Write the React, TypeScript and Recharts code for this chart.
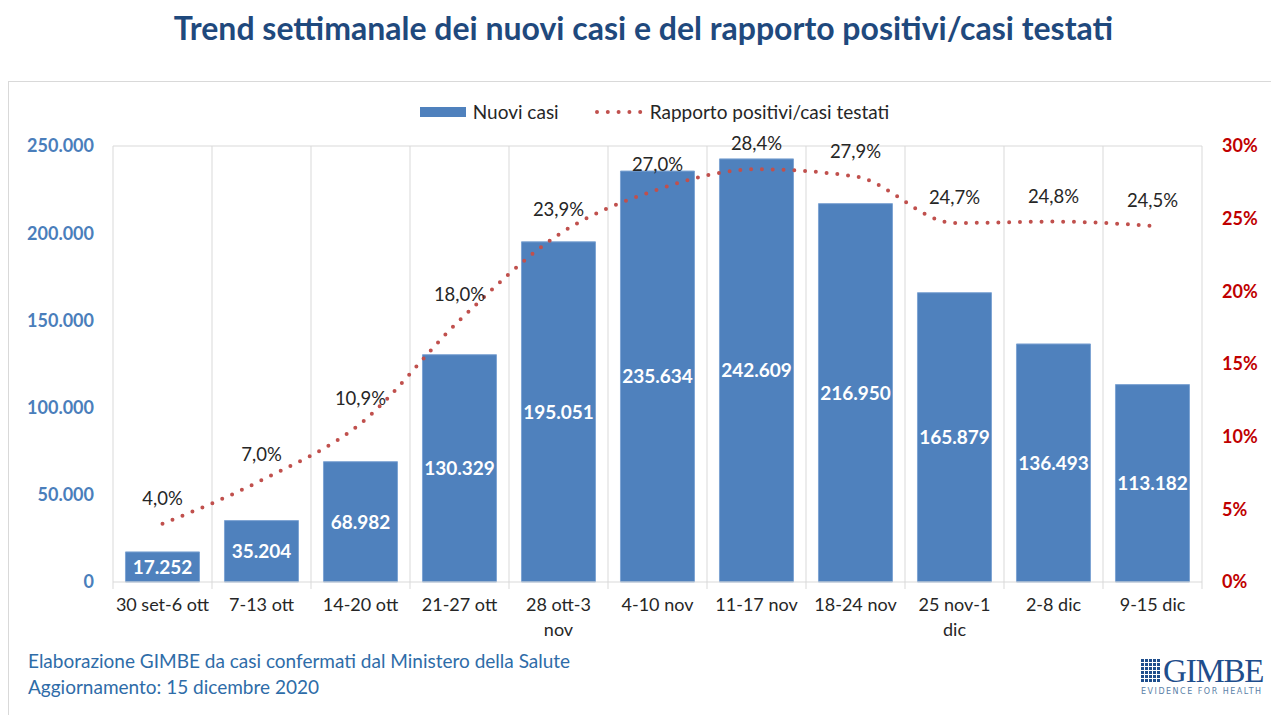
import { ComposedChart, Bar, Line, XAxis, YAxis, CartesianGrid, LabelList } from "recharts";

const weeks = [
  "30 set-6 ott", "7-13 ott", "14-20 ott", "21-27 ott", "28 ott-3\nnov", "4-10 nov",
  "11-17 nov", "18-24 nov", "25 nov-1\ndic", "2-8 dic", "9-15 dic",
];
const newCases = [17252, 35204, 68982, 130329, 195051, 235634, 242609, 216950, 165879, 136493, 113182];
const positiveRatio = [4.0, 7.0, 10.9, 18.0, 23.9, 27.0, 28.4, 27.9, 24.7, 24.8, 24.5];
const leftTicks = [0, 50000, 100000, 150000, 200000, 250000];
const rightTicks = [0, 5, 10, 15, 20, 25, 30];

const data = weeks.map((w, i) => ({ week: w, casi: newCases[i], rapporto: positiveRatio[i] }));

const FONT = "Lato, 'Open Sans', sans-serif";
const fmtThousands = (v: number) => String(v).replace(/\B(?=(\d{3})+(?!\d))/g, ".");
const fmtPct = (v: number) => v.toFixed(1).replace(".", ",") + "%";

function WeekTick(props: any) {
  const { x, y, payload, index, width, visibleTicksCount } = props;
  const step = width / visibleTicksCount;
  const lines = String(payload.value).split("\n");
  const top = 582;
  return (
    <g>
      <line x1={x - step / 2} x2={x - step / 2} y1={top} y2={top + 7} stroke="#d9d9d9" />
      {index === visibleTicksCount - 1 && (
        <line x1={x + step / 2} x2={x + step / 2} y1={top} y2={top + 7} stroke="#d9d9d9" />
      )}
      <text x={x} y={y + 21} textAnchor="middle" fontSize={18} fill="#262626" fontFamily={FONT}>
        {lines.map((l, i) => (
          <tspan key={i} x={x} dy={i === 0 ? 0 : 25}>{l}</tspan>
        ))}
      </text>
    </g>
  );
}

function LegendBox() {
  return (
    <div style={{ position: "absolute", left: 19, top: 100, width: 1271, display: "flex", justifyContent: "center", alignItems: "center", fontFamily: FONT, fontSize: 19, color: "#262626" }}>
      <span style={{ display: "inline-block", width: 46, height: 10, background: "#4f81bd", marginRight: 7 }} />
      <span style={{ marginRight: 35 }}>Nuovi casi</span>
      <svg width={50} height={10} style={{ marginRight: 6 }}>
        <line x1={3} x2={48} y1={5} y2={5} stroke="#c0504d" strokeWidth={4} strokeLinecap="round" strokeDasharray="0 10.8" />
      </svg>
      <span>Rapporto positivi/casi testati</span>
    </div>
  );
}

function GimbeLogo() {
  const cells = [];
  for (let r = 0; r < 6; r++) {
    for (let c = 0; c < 5; c++) {
      cells.push(<rect key={r * 5 + c} x={c * 4} y={r * 4} width={3} height={3} fill="#1f4e8c" />);
    }
  }
  return (
    <div style={{ position: "absolute", left: 1141, top: 656, width: 128 }}>
      <div style={{ display: "flex", alignItems: "center" }}>
        <svg width={20} height={24} style={{ marginRight: 2 }}>{cells}</svg>
        <span style={{ fontFamily: "'Liberation Serif', serif", fontSize: 33, color: "#1f4e8c", lineHeight: "30px", letterSpacing: -1.2 }}>GIMBE</span>
      </div>
      <div style={{ fontFamily: "'DejaVu Sans', sans-serif", fontSize: 8, color: "#5a7fa8", letterSpacing: 1.5, marginTop: 1 }}>
        EVIDENCE FOR HEALTH
      </div>
    </div>
  );
}

export default function App() {
  return (
    <div style={{ position: "absolute", left: 0, top: 0, width: 1271, height: 715, background: "#fff", overflow: "hidden" }}>
      <div style={{ position: "absolute", left: 0, top: 8, width: 1287, textAlign: "center", fontFamily: FONT, fontWeight: 700, fontSize: 32, color: "#1f497d" }}>
        Trend settimanale dei nuovi casi e del rapporto positivi/casi testati
      </div>
      <div style={{ position: "absolute", left: 8, top: 81, width: 1280, height: 700, border: "1px solid #d9d9d9" }} />
      <LegendBox />
      <div style={{ position: "absolute", left: 0, top: 0 }}>
        <ComposedChart
          width={1271}
          height={715}
          data={data}
          margin={{ top: 146, right: 9, bottom: 73, left: 33 }}
          barCategoryGap="12.6%"
        >
          <CartesianGrid
            stroke="#d9d9d9"
            verticalCoordinatesGenerator={({ offset }: any) =>
              weeks.map((_, i) => offset.left + (i * offset.width) / weeks.length).concat(offset.left + offset.width)
            }
            horizontalCoordinatesGenerator={({ offset }: any) => [offset.top]}
          />
          <XAxis
            dataKey="week"
            xAxisId="x"
            interval={0}
            height={60}
            axisLine={{ stroke: "#d9d9d9" }}
            tickLine={false}
            tick={<WeekTick />}
          />
          <YAxis
            yAxisId="left"
            width={80}
            domain={[0, 250000]}
            ticks={leftTicks}
            axisLine={false}
            tickLine={false}
            tickMargin={13}
            tickFormatter={fmtThousands}
            tick={{ fill: "#4a7ebb", fontSize: 18, fontWeight: 700, fontFamily: FONT }}
          />
          <YAxis
            yAxisId="right"
            orientation="right"
            width={60}
            domain={[0, 30]}
            ticks={rightTicks}
            axisLine={false}
            tickLine={false}
            tickMargin={14}
            tickFormatter={(v: number) => v + "%"}
            tick={{ fill: "#c00000", fontSize: 18, fontWeight: 700, fontFamily: FONT, textAnchor: "start" }}
          />
          <Bar dataKey="casi" xAxisId="x" yAxisId="left" fill="#4f81bd" stroke="#7ea4d3" strokeWidth={1} isAnimationActive={false}>
            <LabelList dataKey="casi" position="center" formatter={fmtThousands as any} fill="#ffffff" fontSize={19} fontWeight={700} fontFamily={FONT} />
          </Bar>
          <Line
            dataKey="rapporto"
            xAxisId="x"
            yAxisId="right"
            type="monotone"
            stroke="#c0504d"
            strokeWidth={4}
            strokeLinecap="round"
            strokeDasharray="0 10.8"
            dot={false}
            activeDot={false}
            isAnimationActive={false}
          >
            <LabelList dataKey="rapporto" position="top" offset={19} formatter={fmtPct as any} fill="#262626" fontSize={18.5} fontFamily={FONT} />
          </Line>
        </ComposedChart>
      </div>
      <div style={{ position: "absolute", left: 28, top: 648, fontFamily: FONT, fontSize: 19, color: "#2e6ca8", lineHeight: "26px" }}>
        <div>Elaborazione GIMBE da casi confermati dal Ministero della Salute</div>
        <div>Aggiornamento: 15 dicembre 2020</div>
      </div>
      <GimbeLogo />
    </div>
  );
}
